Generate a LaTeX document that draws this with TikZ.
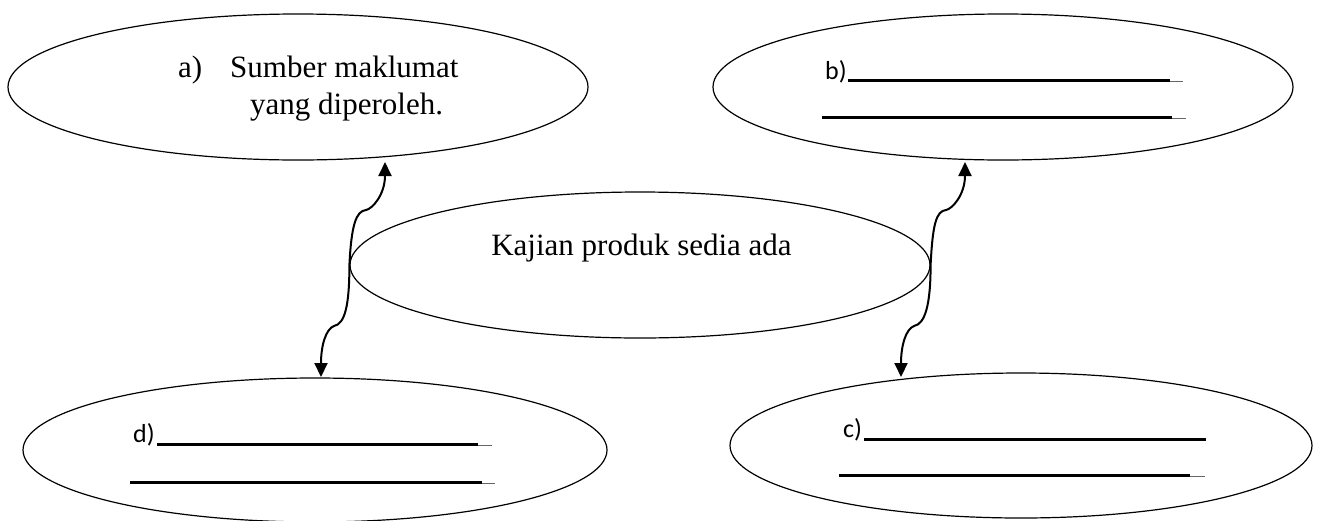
\documentclass[tikz,border=0pt]{standalone}
\usepackage{fontspec}
\setmainfont{Liberation Serif}
\newfontfamily\calfont{Carlito}
\usetikzlibrary{shapes.geometric,arrows.meta}
\begin{document}
\begin{tikzpicture}[x=1pt,y=-1pt,
  bubble/.style={draw, ellipse, line width=1.2pt, inner sep=0pt, minimum width=580pt, minimum height=146pt},
  serif/.style={font=\fontsize{31}{37}\selectfont, inner sep=0pt},
  tag/.style={font=\calfont\fontsize{26}{30}\selectfont, inner sep=0pt, anchor=base west},
  blank/.style={line width=3pt},
  tail/.style={line width=1.3pt, black!60},
  link/.style={line width=2pt, -{Triangle[length=14pt,width=13pt]}}]
\fill[white] (0,0) rectangle (1321,520);
\useasboundingbox (0,0) rectangle (1321,520);

% ellipses
\node[bubble] (a) at (298,87) {};
\node[bubble] (b) at (1003,87) {};
\node[bubble] (k) at (640,265) {};
\node[bubble, minimum width=584pt, minimum height=144pt] (d) at (315,450) {};
\node[bubble, minimum width=582pt, minimum height=145pt] (c) at (1021,445.5) {};

% texts
\node[serif, anchor=base west] (ta) at (178,77) {a)};
\node[serif, anchor=base west] (ta2) at (230,77) {Sumber maklumat};
\node[serif, anchor=base west] (ta3) at (250,114) {yang diperoleh.};
\node[serif, anchor=base] (tk) at (641.5,255) {Kajian produk sedia ada};

% b)
\node[tag] (tb) at (825,79) {b)};
\draw[blank] (848,80) -- (1170,80);
\draw[tail] (1170,81.5) -- (1183,81.5);
\draw[blank] (822,117) -- (1172,117);
\draw[tail] (1172,118.5) -- (1186,118.5);

% c)
\node[tag] (tc) at (843,437) {c)};
\draw[blank] (864,439) -- (1206,439);
\draw[blank] (839,475) -- (1190,475);
\draw[tail] (1190,476.5) -- (1205,476.5);

% d)
\node[tag] (td) at (133,442) {d)};
\draw[blank] (157,444) -- (478,444);
\draw[tail] (478,445.5) -- (492,445.5);
\draw[blank] (130,482) -- (482,482);
\draw[tail] (482,483.5) -- (495,483.5);

% connector end points
\coordinate (tipA) at (385,162);
\coordinate (tipD) at (321,377);
\coordinate (tipB) at (965,162);
\coordinate (tipC) at (901,377);
\coordinate (kA) at (366,210);
\coordinate (kD) at (334,326);
\coordinate (kB) at (946,210);
\coordinate (kC) at (914,326);

% connectors
\draw[link] (k.west) .. controls +(2,-40) and +(-10,1) .. (kA) .. controls +(6,-1) and +(0,33) .. (tipA);
\draw[link] (k.west) .. controls +(0,40) and +(11,-2) .. (kD) .. controls +(-8,3) and +(0,-32) .. (tipD);
\draw[link] (k.east) .. controls +(2,-40) and +(-10,1) .. (kB) .. controls +(6,-1) and +(0,33) .. (tipB);
\draw[link] (k.east) .. controls +(0,40) and +(11,-2) .. (kC) .. controls +(-8,3) and +(0,-32) .. (tipC);
\end{tikzpicture}
\end{document}
